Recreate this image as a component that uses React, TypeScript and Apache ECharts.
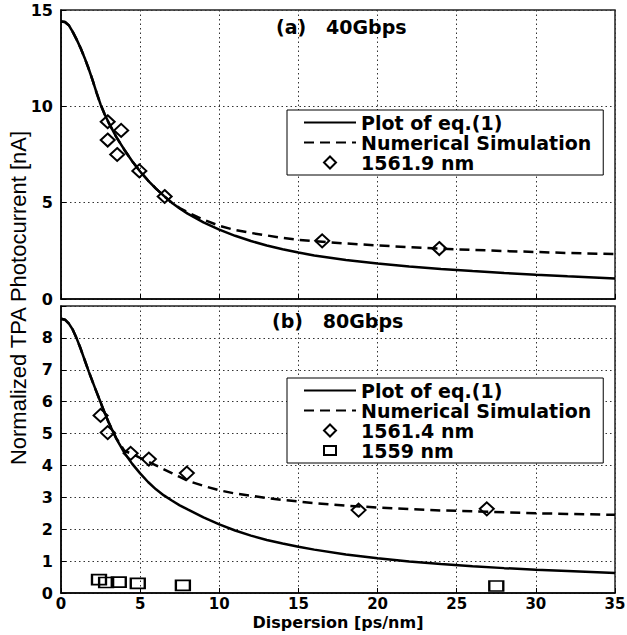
import React, { useEffect, useRef } from "react";
import * as echarts from "echarts";

// ---- data ----
const xFit = [0, 0.25, 0.5, 0.75, 1, 1.25, 1.5, 1.75, 2, 2.25, 2.5, 2.75, 3, 3.5, 4, 4.5, 5, 5.5, 6, 6.5, 7, 7.5, 8, 9, 10, 11, 12, 13, 14, 15, 16, 18, 20, 22, 24, 26, 28, 30, 32, 35];
const topEq = [14.4, 14.38, 14.2, 13.85, 13.45, 13.0, 12.5, 11.95, 11.35, 10.7, 10.1, 9.6, 9.17, 8.4, 7.75, 7.15, 6.62, 6.15, 5.73, 5.35, 5.0, 4.7, 4.43, 3.98, 3.6, 3.28, 3.01, 2.78, 2.58, 2.41, 2.26, 2.02, 1.84, 1.69, 1.56, 1.45, 1.35, 1.26, 1.18, 1.07];
const topSim = [14.4, 14.38, 14.2, 13.85, 13.45, 13.0, 12.5, 11.95, 11.35, 10.7, 10.1, 9.6, 9.17, 8.4, 7.75, 7.15, 6.62, 6.15, 5.73, 5.35, 5.0, 4.72, 4.5, 4.12, 3.8, 3.58, 3.43, 3.3, 3.17, 3.07, 3.0, 2.88, 2.78, 2.69, 2.61, 2.55, 2.49, 2.44, 2.39, 2.33];
const botEq = [8.6, 8.57, 8.45, 8.25, 7.97, 7.65, 7.3, 6.95, 6.62, 6.3, 5.98, 5.66, 5.36, 4.83, 4.4, 4.05, 3.75, 3.48, 3.25, 3.06, 2.9, 2.75, 2.62, 2.37, 2.15, 1.96, 1.8, 1.66, 1.55, 1.45, 1.36, 1.21, 1.09, 0.99, 0.91, 0.84, 0.78, 0.73, 0.69, 0.63];
const botSim = [8.6, 8.57, 8.45, 8.25, 7.97, 7.65, 7.3, 6.95, 6.62, 6.3, 5.98, 5.66, 5.36, 4.85, 4.46, 4.36, 4.24, 4.12, 4.0, 3.88, 3.76, 3.64, 3.52, 3.36, 3.22, 3.12, 3.05, 2.98, 2.92, 2.87, 2.82, 2.74, 2.68, 2.63, 2.59, 2.56, 2.53, 2.5, 2.48, 2.45];

const top1561_9 = [[2.95, 9.2], [2.95, 8.25], [3.8, 8.75], [3.55, 7.5], [4.95, 6.65], [6.55, 5.32], [16.5, 3.02], [23.9, 2.62]];
const bot1561_4 = [[2.5, 5.57], [2.95, 5.03], [4.4, 4.38], [5.55, 4.2], [7.95, 3.76], [18.8, 2.6], [26.9, 2.64]];
const bot1559 = [[2.4, 0.42], [2.85, 0.33], [3.65, 0.34], [4.85, 0.3], [7.7, 0.24], [27.5, 0.22]];

const xTicks = { min: 0, max: 35, interval: 5 };
const topYTicks = { min: 0, max: 15, interval: 5 };
const botYTicks = { min: 0, max: 9, interval: 1 };

const nameEq = "Plot of eq.(1)";
const nameSim = "Numerical Simulation";
const nameA = "1561.9 nm";
const nameB = "1561.4 nm";
const nameC = "1559 nm";
const titleA = "(a)   40Gbps";
const titleB = "(b)   80Gbps";
const xName = "Dispersion [ps/nm]";
const yName = "Normalized TPA Photocurrent [nA]";

const BOLD = "DejaVu Sans";
const DIAMOND_ICON = "path://M5,0L10,5L5,10L0,5Z";
const SQUARE_ICON = "path://M0,0M12,12M0,1.5L12,1.5L12,10.5L0,10.5Z";

function pairs(xs: number[], ys: number[]) {
  return xs.map((x, i) => [x, ys[i]]);
}

export default function App() {
  const ref = useRef<HTMLDivElement>(null);
  useEffect(() => {
    if (!ref.current) return;
    const chart = echarts.init(ref.current, undefined, { renderer: "svg" });

    const splitLine = { show: true, lineStyle: { color: "#333", width: 1, type: [1.5, 3] as any } };
    const axisLine = { show: true, lineStyle: { color: "#000", width: 1.5 } };
    const axisTick = { show: true, inside: true, length: 5, lineStyle: { color: "#000", width: 1 } };
    const tickLabel = { color: "#000", fontFamily: BOLD, fontWeight: "bold" as const, fontSize: 15 };

    const lineBase = (name: string, data: number[][], xi: number, dashed: boolean) => ({
      type: "line",
      name,
      xAxisIndex: xi,
      yAxisIndex: xi,
      data,
      symbol: "none",
      smooth: false,
      lineStyle: { color: "#000", width: 2.5, type: dashed ? [10, 6] : "solid" },
      itemStyle: { color: "#000" },
      z: dashed ? 3 : 2,
    });
    const scatterBase = (name: string, data: number[][], xi: number, symbol: string, size: number[]) => ({
      type: "scatter",
      name,
      xAxisIndex: xi,
      yAxisIndex: xi,
      data,
      symbol,
      symbolSize: size,
      itemStyle: { color: "rgba(255,255,255,0)", borderColor: "#000", borderWidth: 2, opacity: 1 },
      z: 4,
    });

    const hiddenDot = { color: "rgba(0,0,0,0)", borderColor: "rgba(0,0,0,0)", borderWidth: 0 };
    const lineItem = (name: string) => ({ name, itemStyle: hiddenDot });
    const markItem = (name: string, icon: string) => ({
      name,
      icon,
      itemStyle: { color: "rgba(255,255,255,0)", borderColor: "#000", borderWidth: 2 },
    });

    const legendCommon = {
      orient: "vertical",
      left: 287,
      itemWidth: 52,
      itemHeight: 12,
      itemGap: 1,
      padding: [3, 12, 3, 16],
      backgroundColor: "#fff",
      borderColor: "#000",
      borderWidth: 1,
      selectedMode: false,
      symbolKeepAspect: true,
      textStyle: { color: "#000", fontFamily: BOLD, fontWeight: "bold", fontSize: 19, lineHeight: 19 },
    };

    const titleStyle = { fontFamily: BOLD, fontWeight: "bold", fontSize: 19, color: "#000" };

    chart.setOption({
      animation: false,
      backgroundColor: "#fff",
      title: [
        { text: titleA, left: 276, top: 17, padding: 0, textStyle: titleStyle },
        { text: titleB, left: 272, top: 311, padding: 0, textStyle: titleStyle },
      ],
      grid: [
        { left: 61, top: 10, width: 554, height: 289, show: true, borderColor: "#222", borderWidth: 1.5, outerBoundsMode: "none" },
        { left: 61, top: 306, width: 554, height: 287, show: true, borderColor: "#222", borderWidth: 1.5, outerBoundsMode: "none" },
      ],
      xAxis: [
        { type: "value", gridIndex: 0, ...xTicks, axisLabel: { show: false }, axisLine, axisTick, splitLine },
        {
          type: "value", gridIndex: 1, ...xTicks,
          axisLabel: { ...tickLabel, margin: 3 }, axisLine, axisTick, splitLine,
          name: xName, nameLocation: "middle", nameGap: 21,
          nameTextStyle: { color: "#000", fontFamily: BOLD, fontWeight: "bold", fontSize: 16 },
        },
      ],
      yAxis: [
        { type: "value", gridIndex: 0, ...topYTicks, axisLabel: { ...tickLabel, fontSize: 16, margin: 8 }, axisLine, axisTick, splitLine },
        {
          type: "value", gridIndex: 1, ...botYTicks,
          axisLabel: { ...tickLabel, fontSize: 16, margin: 8, formatter: (v: number) => (v === botYTicks.max ? "" : String(v)) },
          axisLine, axisTick, splitLine,
        },
      ],
      legend: [
        { ...legendCommon, top: 110, data: [lineItem(nameEq), lineItem(nameSim), markItem(nameA, DIAMOND_ICON)] },
        { ...legendCommon, top: 378, data: [lineItem(nameEq), lineItem(nameSim), markItem(nameB, DIAMOND_ICON), markItem(nameC, SQUARE_ICON)] },
      ],
      graphic: [
        {
          type: "text",
          x: 18,
          y: 298,
          rotation: Math.PI / 2,
          style: {
            text: yName,
            fontFamily: "Liberation Sans",
            fontSize: 22,
            fill: "#000",
            align: "center",
            verticalAlign: "middle",
          },
        },
      ],
      series: [
        lineBase(nameEq, pairs(xFit, topEq), 0, false),
        lineBase(nameSim, pairs(xFit, topSim), 0, true),
        scatterBase(nameA, top1561_9, 0, "diamond", [14, 13]),
        lineBase(nameEq, pairs(xFit, botEq), 1, false),
        lineBase(nameSim, pairs(xFit, botSim), 1, true),
        scatterBase(nameB, bot1561_4, 1, "diamond", [14, 13]),
        scatterBase(nameC, bot1559, 1, "rect", [14, 10]),
      ],
    } as any);

    return () => chart.dispose();
  }, []);

  return (
    <div
      ref={ref}
      style={{ position: "fixed", left: 0, top: 0, width: 627, height: 635, background: "#fff" }}
    />
  );
}
